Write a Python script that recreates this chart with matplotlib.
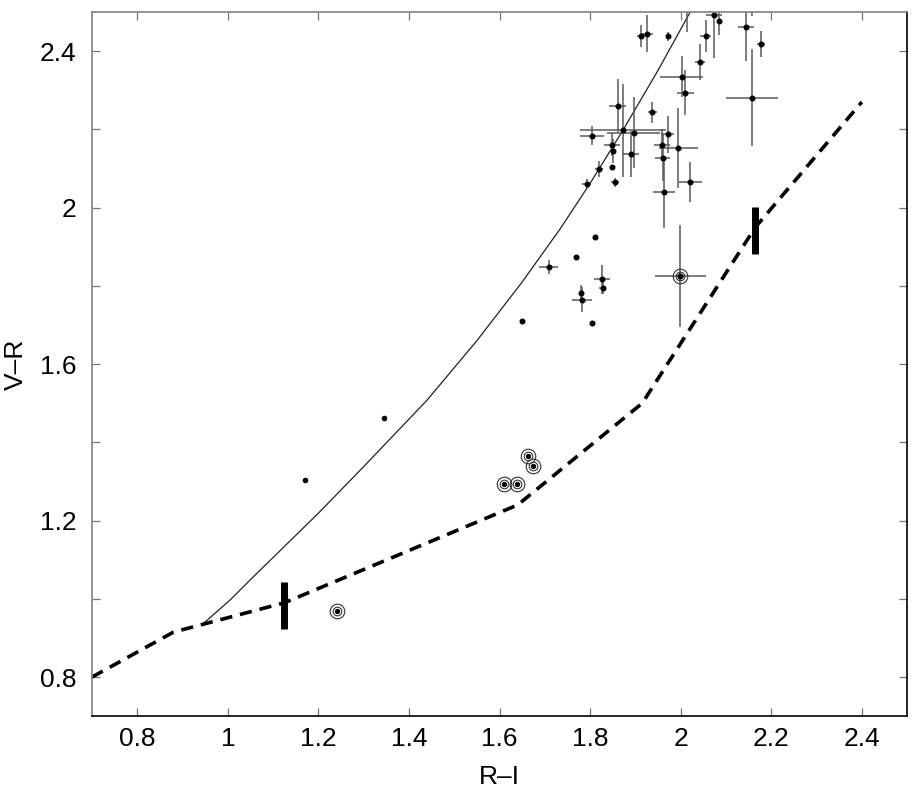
import matplotlib
matplotlib.use('Agg')
import matplotlib.pyplot as plt
from matplotlib.ticker import FixedLocator, FuncFormatter

plt.rcParams['font.family'] = ['Liberation Sans', 'DejaVu Sans']

# stars with error bars (R-I, V-R, err R-I, err V-R)
ri = [1.913, 1.925, 1.971, 2.074, 2.084, 2.055, 2.043, 2.002, 2.010, 2.144,
      2.177, 2.157, 1.861, 1.937, 1.804, 1.873, 1.896, 1.848, 1.850, 1.890,
      1.820, 1.848, 1.793, 1.854, 1.971, 1.958, 1.960, 1.995, 1.963, 2.021,
      1.709, 1.768, 1.810, 1.649, 1.805, 1.826, 1.828, 1.779, 1.783, 1.999,
      2.013, 2.157]
vr = [2.439, 2.445, 2.438, 2.493, 2.478, 2.438, 2.372, 2.335, 2.294, 2.462,
      2.418, 2.281, 2.261, 2.244, 2.184, 2.198, 2.192, 2.161, 2.145, 2.138,
      2.099, 2.105, 2.061, 2.065, 2.187, 2.160, 2.128, 2.152, 2.039, 2.066,
      1.848, 1.875, 1.926, 1.709, 1.704, 1.817, 1.794, 1.783, 1.764, 1.826,
      2.56, 2.56]
ri_err = [0.009, 0.013, 0.0, 0.018, 0.0, 0.012, 0.011, 0.048, 0.019, 0.018,
          0.009, 0.057, 0.019, 0.010, 0.026, 0.095, 0.059, 0.018, 0.0, 0.017,
          0.009, 0.0, 0.010, 0.009, 0.015, 0.018, 0.017, 0.044, 0.025, 0.025,
          0.021, 0.0, 0.0, 0.003, 0.0, 0.017, 0.008, 0.0, 0.022, 0.056,
          0.0, 0.0]
vr_err = [0.028, 0.048, 0.012, 0.11, 0.036, 0.041, 0.045, 0.052, 0.058, 0.086,
          0.034, 0.124, 0.067, 0.027, 0.025, 0.119, 0.091, 0.030, 0.030, 0.059,
          0.021, 0.0, 0.012, 0.011, 0.047, 0.040, 0.060, 0.102, 0.090, 0.051,
          0.017, 0.0, 0.0, 0.003, 0.0, 0.037, 0.015, 0.018, 0.032, 0.130,
          0.11, 0.07]

# isolated dots
dot_ri = [1.344, 1.171]
dot_vr = [1.463, 1.304]

# ringed objects
ring_ri = [1.609, 1.638, 1.662, 1.673, 1.241, 1.999]
ring_vr = [1.294, 1.294, 1.366, 1.340, 0.970, 1.826]

# thick vertical bars (x, ymin, ymax)
bar_x = [1.125, 2.165]
bar_lo = [0.924, 1.882]
bar_hi = [1.044, 2.002]

# solid sequence
seq_ri = [0.942, 1.005, 1.049, 1.2, 1.3, 1.44, 1.55, 1.65, 1.734, 1.8,
          1.873, 1.95, 2.021, 2.04]
seq_vr = [0.933, 0.997, 1.048, 1.219, 1.338, 1.508, 1.660, 1.81, 1.946, 2.062,
          2.199, 2.351, 2.5, 2.54]

# dashed sequence
dash_ri = [0.70, 0.88, 1.125, 1.64, 1.915, 2.165, 2.40]
dash_vr = [0.80, 0.915, 0.99, 1.24, 1.50, 1.95, 2.27]

fig = plt.figure(figsize=(9.2, 8.02), dpi=100)
ax = fig.add_axes([0.1, 0.107, 0.886, 0.878])

ax.plot(seq_ri, seq_vr, color='#222222', lw=0.9)
ax.plot(dash_ri, dash_vr, color='black', lw=2.6, dashes=(3.4, 2.2),
        solid_capstyle='butt', dash_capstyle='butt')

ax.errorbar(ri, vr, xerr=ri_err, yerr=vr_err, fmt='o', ms=3.3, color='black',
            ecolor='#5a5a5a', elinewidth=1.1, capsize=0)
ax.plot(dot_ri, dot_vr, 'o', ms=3.0, color='black')

ax.plot(ring_ri, ring_vr, 'o', ms=10.5, mfc='none', mec='#333333', mew=0.8)
ax.plot(ring_ri, ring_vr, 'o', ms=6.2, mfc='none', mec='#333333', mew=0.8)
ax.plot(ring_ri, ring_vr, 'o', ms=2.8, color='black')

ax.vlines(bar_x, bar_lo, bar_hi, color='black', lw=5.0)

ax.set_xlim(0.7, 2.5)
ax.set_ylim(0.7, 2.5)

xt = [0.8, 1.0, 1.2, 1.4, 1.6, 1.8, 2.0, 2.2, 2.4]
yt = [0.8, 1.0, 1.2, 1.4, 1.6, 1.8, 2.0, 2.2, 2.4]
ylab = ['0.8', '', '1.2', '', '1.6', '', '2', '', '2.4']
ax.xaxis.set_major_locator(FixedLocator(xt))
ax.xaxis.set_major_formatter(FuncFormatter(lambda v, p: '%g' % v))
ax.yaxis.set_major_locator(FixedLocator(yt))
ax.set_yticklabels(ylab)

ax.tick_params(direction='in', length=5.8, width=0.9, color='#777777',
               top=True, right=True, labelsize=19)
ax.tick_params(axis='x', pad=8)
ax.tick_params(axis='y', pad=11)

for s in ['left', 'top']:
    ax.spines[s].set_color('#808080')
for s in ['bottom', 'right']:
    ax.spines[s].set_color('black')
for s in ax.spines.values():
    s.set_linewidth(1.2)

ax.set_xlabel('R–I', fontsize=19, labelpad=10)
ax.set_ylabel('V–R', fontsize=19, labelpad=9)

fig.savefig('out.png', dpi=100)
